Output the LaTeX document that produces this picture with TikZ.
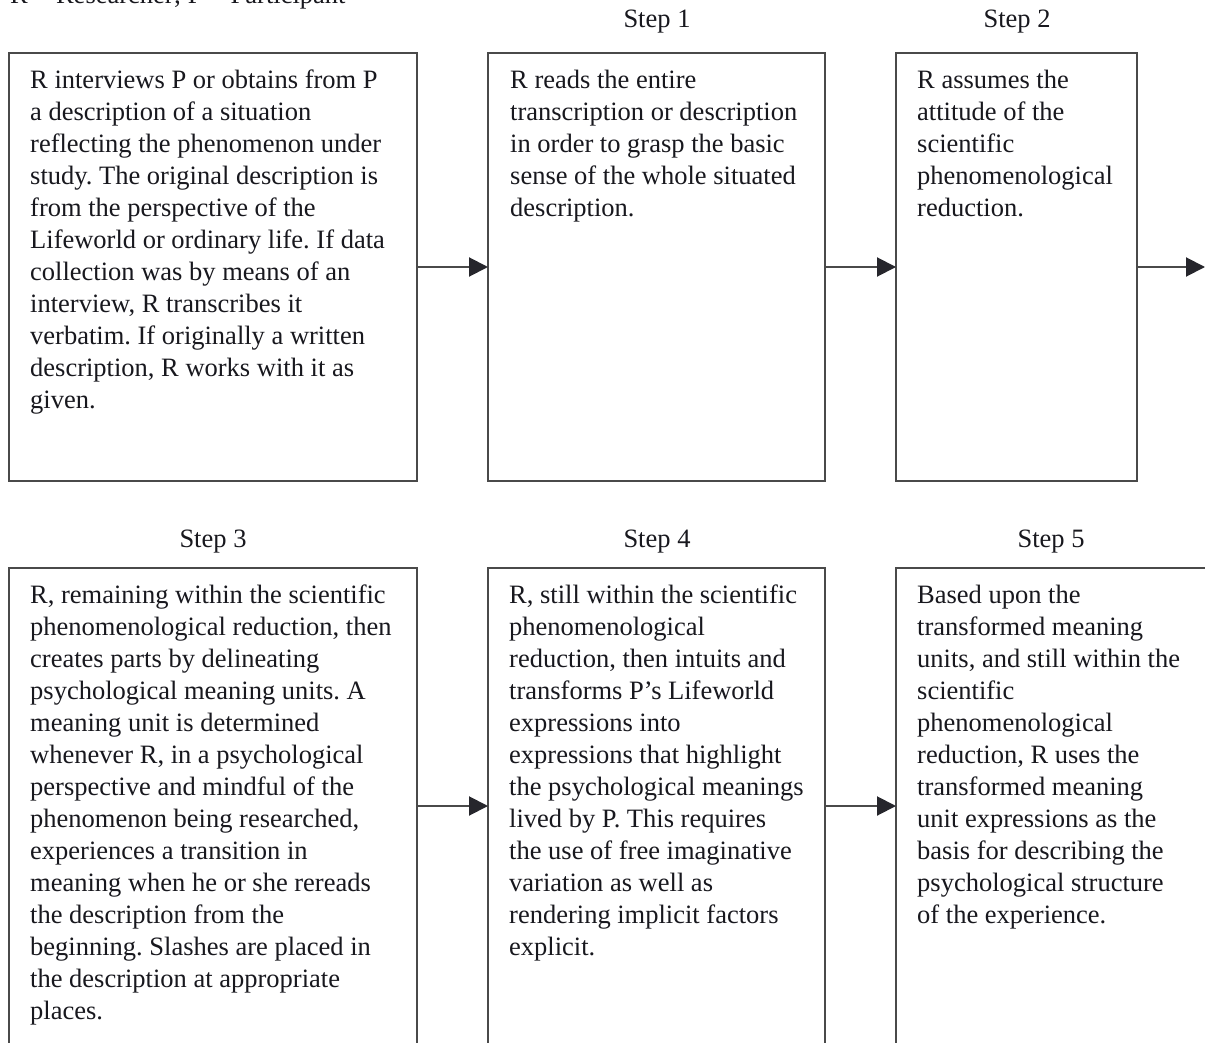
\documentclass[tikz,border=0pt]{standalone}
\usepackage{fontspec}
\setmainfont{Liberation Serif}
\usetikzlibrary{arrows.meta}
\definecolor{linec}{HTML}{4A4A4A}
\definecolor{arrc}{HTML}{26262C}
\definecolor{txtc}{HTML}{18181E}
\frenchspacing
\begin{document}
\begin{tikzpicture}[x=1pt,y=-1pt,
  boxst/.style={draw=linec,line width=2pt,anchor=north west,inner sep=0pt,outer sep=0pt},
  arr/.style={draw=linec,line width=2pt,-{Triangle[length=19pt,width=19pt,color=arrc]}},
  txt/.style={anchor=north west,inner sep=0pt,align=left,font=\fontsize{26.5}{32}\selectfont,text=txtc},
  lbl/.style={anchor=base,inner sep=0pt,font=\fontsize{26.5}{32}\selectfont,text=txtc}]
\useasboundingbox (0,0) rectangle (1205,1043);
\fill[white] (0,0) rectangle (1205,1043);
\clip (0,0) rectangle (1205,1043);
% legend (cut off at top, as in the reference)
\node[lbl,anchor=base west] (legend) at (10,4) {R = Researcher; P = Participant};
% step labels
\node[lbl] (s1) at (657,28) {Step 1};
\node[lbl] (s2) at (1017,28) {Step 2};
\node[lbl] (s3) at (213,547) {Step 3};
\node[lbl] (s4) at (657,547) {Step 4};
\node[lbl] (s5) at (1051,547) {Step 5};
% boxes
\node[boxst,minimum width=408pt,minimum height=428pt] (b1) at (9,53) {};
\node[boxst,minimum width=337pt,minimum height=428pt] (b2) at (488,53) {};
\node[boxst,minimum width=241pt,minimum height=428pt] (b3) at (896,53) {};
\node[boxst,minimum width=408pt,minimum height=476pt] (b4) at (9,568) {};
\node[boxst,minimum width=337pt,minimum height=476pt] (b5) at (488,568) {};
\node[boxst,minimum width=364pt,minimum height=476pt] (b6) at (896,568) {};
% texts
\node[txt] (t1) at (30,68) {\rule{0pt}{20pt}R interviews P or obtains from P\\
a description of a situation\\
reflecting the phenomenon under\\
study. The original description is\\
from the perspective of the\\
Lifeworld or ordinary life. If data\\
collection was by means of an\\
interview, R transcribes it\\
verbatim. If originally a written\\
description, R works with it as\\
given.};
\node[txt] (t2) at (510,68) {\rule{0pt}{20pt}R reads the entire\\
transcription or description\\
in order to grasp the basic\\
sense of the whole situated\\
description.};
\node[txt] (t3) at (917,68) {\rule{0pt}{20pt}R assumes the\\
attitude of the\\
scientific\\
phenomenological\\
reduction.};
\node[txt] (t4) at (30,583) {\rule{0pt}{20pt}R, remaining within the scientific\\
phenomenological reduction, then\\
creates parts by delineating\\
psychological meaning units. A\\
meaning unit is determined\\
whenever R, in a psychological\\
perspective and mindful of the\\
phenomenon being researched,\\
experiences a transition in\\
meaning when he or she rereads\\
the description from the\\
beginning. Slashes are placed in\\
the description at appropriate\\
places.};
\node[txt] (t5) at (509,583) {\rule{0pt}{20pt}R, still within the scientific\\
phenomenological\\
reduction, then intuits and\\
transforms P’s Lifeworld\\
expressions into\\
expressions that highlight\\
the psychological meanings\\
lived by P. This requires\\
the use of free imaginative\\
variation as well as\\
rendering implicit factors\\
explicit.};
\node[txt] (t6) at (917,583) {\rule{0pt}{20pt}Based upon the\\
transformed meaning\\
units, and still within the\\
scientific\\
phenomenological\\
reduction, R uses the\\
transformed meaning\\
unit expressions as the\\
basis for describing the\\
psychological structure\\
of the experience.};
% connectors
\coordinate (e3) at (1205,267);
\draw[arr] (b1.east) -- (b2.west);
\draw[arr] (b2.east) -- (b3.west);
\draw[arr] (b3.east) -- (e3);
\draw[arr] (b4.east) -- (b5.west);
\draw[arr] (b5.east) -- (b6.west);
\end{tikzpicture}
\end{document}
